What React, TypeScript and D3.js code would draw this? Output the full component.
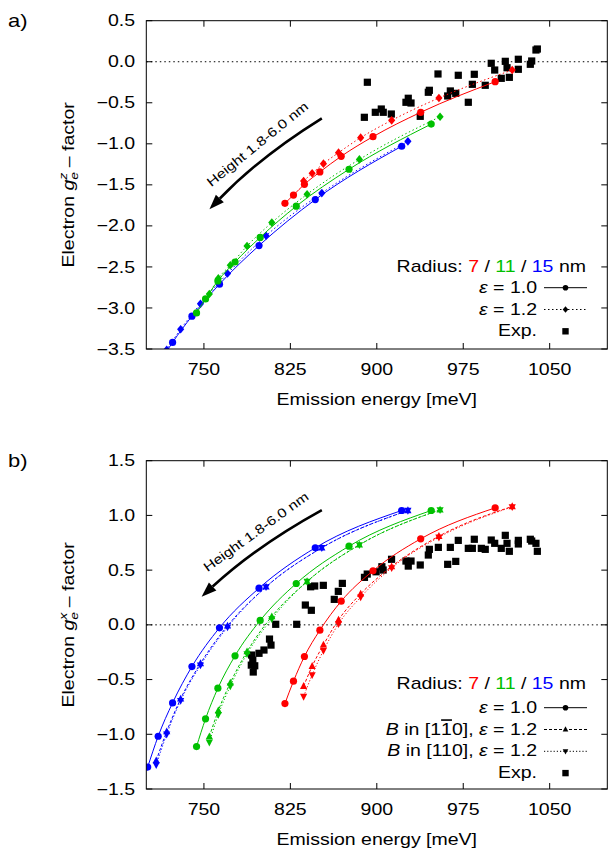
import React from "react";
import * as d3 from "d3";

// emission energies (meV) of the calculated dots, heights 1.8 -> 6.0 nm (high E -> low E)
const energyRed10 = [820.3, 827.7, 837.2, 850.6, 869.1, 896.7, 938.1, 1002.7];
const energyRed12 = [836.5, 843.9, 853.7, 866.8, 886.0, 912.9, 953.9, 1017.5];
const energyGreen10 = [743.6, 751.4, 762.1, 777.0, 798.8, 830.1, 875.9, 947.2];
const energyGreen12 = [754.7, 762.5, 772.9, 787.4, 808.9, 839.5, 884.9, 954.9];
const energyBlue10 = [701.2, 710.3, 722.8, 739.6, 763.5, 797.8, 846.6, 921.6];
const energyBlue12 = [708.6, 717.7, 729.8, 747.0, 770.5, 803.9, 852.3, 927.0];

// panel a: g_e^z
const gzRed10 = [-1.725, -1.624, -1.493, -1.343, -1.152, -0.913, -0.616, -0.243];
const gzRed12 = [-1.453, -1.359, -1.242, -1.108, -0.925, -0.714, -0.442, -0.101];
const gzGreen10 = [-3.06, -2.89, -2.67, -2.44, -2.14, -1.76, -1.31, -0.76];
const gzGreen12 = [-2.83, -2.64, -2.48, -2.245, -1.96, -1.615, -1.19, -0.67];
const gzBlue10 = [-3.94, -3.7, -3.42, -3.1, -2.71, -2.24, -1.68, -1.03];
const gzBlue12 = [-3.74, -3.51, -3.26, -2.95, -2.58, -2.12, -1.6, -0.97];

// panel b: g_e^x
const gxRed10 = [-0.719, -0.515, -0.289, -0.049, 0.216, 0.494, 0.786, 1.069];
const gxRedUp = [-0.561, -0.378, -0.183, 0.046, 0.283, 0.533, 0.81, 1.082];
const gxRedDown = [-0.655, -0.457, -0.235, 0.009, 0.253, 0.521, 0.8, 1.078];
const gxGreen10 = [-1.112, -0.859, -0.579, -0.283, 0.04, 0.378, 0.719, 1.045];
const gxGreenUp = [-1.021, -0.783, -0.53, -0.244, 0.076, 0.396, 0.731, 1.051];
const gxGreenDown = [-1.073, -0.82, -0.56, -0.265, 0.055, 0.396, 0.731, 1.051];
const gxBlue10 = [-1.3, -1.018, -0.713, -0.381, -0.027, 0.335, 0.704, 1.045];
const gxBlueUp = [-1.24, -0.975, -0.676, -0.353, -0.009, 0.347, 0.704, 1.045];
const gxBlueDown = [-1.28, -1.0, -0.692, -0.369, -0.021, 0.347, 0.704, 1.045];

// experiment
const expEnergyA = [889.2, 891.8, 898.7, 903.9, 905.6, 912.6, 925.3, 927.3, 929.7, 937.7, 944.7,
  945.6, 953.1, 961.5, 963.8, 968.5, 970.7, 979.4, 982.9, 984.6, 994.1, 999.3, 1002.3, 1008.0,
  1011.5, 1013.0, 1015.0, 1022.8, 1022.8, 1033.2, 1034.4, 1038.1, 1039.3];
const expGz = [-0.677, -0.25, -0.616, -0.576, -0.616, -0.637, -0.494, -0.445, -0.503, -0.665, -0.372,
  -0.348, -0.149, -0.417, -0.356, -0.385, -0.165, -0.494, -0.275, -0.153, -0.287, -0.019, -0.101, -0.202,
  0.005, -0.073, -0.19, 0.03, -0.092, -0.031, 0.009, 0.143, 0.155];
const expEnergyB = [791.4, 792.4, 791.1, 794.1, 792.8, 797.8, 802.1, 806.9, 808.2, 812.3, 830.5,
  838.0, 843.2, 842.6, 846.1, 853.6, 863.1, 866.6, 870.1, 889.3, 891.7, 899.4, 904.4, 905.5, 912.8,
  925.3, 927.3, 929.7, 937.7, 944.7, 945.6, 953.4, 961.5, 963.8, 968.5, 970.7, 979.4, 982.9, 984.6,
  990.7, 994.1, 999.3, 1002.3, 1008.0, 1011.5, 1013.0, 1015.0, 1022.8, 1022.8, 1033.2, 1034.4,
  1038.1, 1039.3];
const expGx = [-0.276, -0.322, -0.368, -0.374, -0.431, -0.26, -0.23, -0.13, -0.185, 0.005, 0.005,
  0.181, 0.133, 0.348, 0.355, 0.361, 0.233, 0.306, 0.379, 0.434, 0.464, 0.485, 0.531, 0.501, 0.599,
  0.583, 0.537, 0.583, 0.547, 0.638, 0.69, 0.708, 0.553, 0.708, 0.58, 0.772, 0.699, 0.699, 0.782,
  0.699, 0.69, 0.775, 0.745, 0.699, 0.818, 0.745, 0.672, 0.772, 0.739, 0.782, 0.766, 0.745, 0.672];

const xTicks = [750, 825, 900, 975, 1050];
const yTicksA = [0.5, 0, -0.5, -1, -1.5, -2, -2.5, -3, -3.5];
const yTicksB = [1.5, 1, 0.5, 0, -0.5, -1, -1.5];

const RED = "#ff0000";
const GREEN = "#00c000";
const BLUE = "#0000ff";
const FONT = "'Liberation Sans', Arial, Helvetica, sans-serif";
const SX = 1.22; // the figure's lettering is wider than Helvetica

const DOT = "1.5,2.5";
const DASH = "3,2";
const FINE = "1.2,2";

const x = d3.scaleLinear().domain([700, 1100]).range([146.3, 607.3]);

const Txt = ({ x, y, size = 16, anchor = "start", rot = 0, fill = "#000", children }: any) => (
  <text
    transform={`translate(${x},${y}) rotate(${rot}) scale(${SX},1)`}
    fontSize={size}
    textAnchor={anchor}
    fontFamily={FONT}
    fill={fill}
  >
    {children}
  </text>
);

const Marker = ({ shape, cx, cy, s, color }: any) => {
  if (shape === "circle") return <circle cx={cx} cy={cy} r={s} fill={color} />;
  if (shape === "square")
    return <rect x={cx - s} y={cy - s} width={2 * s} height={2 * s} fill={color} />;
  let pts: number[][] = [];
  if (shape === "diamond")
    pts = [[cx, cy - s * 1.2], [cx + s, cy], [cx, cy + s * 1.2], [cx - s, cy]];
  if (shape === "up")
    pts = [[cx, cy - s * 1.15], [cx + s, cy + s * 0.75], [cx - s, cy + s * 0.75]];
  if (shape === "down")
    pts = [[cx, cy + s * 1.15], [cx + s, cy - s * 0.75], [cx - s, cy - s * 0.75]];
  return <polygon points={pts.map((p) => p.join(",")).join(" ")} fill={color} />;
};

const Panel = ({ id, top, bottom, yDomain, yTicks, series, expE, expG, letter, comp, arrow, legend }: any) => {
  const y = d3.scaleLinear().domain(yDomain).range([bottom, top]);
  const [x0, x1] = x.range();
  const line = d3
    .line<[number, number]>()
    .x((d) => x(d[0]))
    .y((d) => y(d[1]))
    .curve(d3.curveMonotoneX);
  const tick = 6;

  // arrow (in data units)
  const [sx, sy] = [x(arrow.from[0]), y(arrow.from[1])];
  const [ex, ey] = [x(arrow.to[0]), y(arrow.to[1])];
  const mx = (sx + ex) / 2, my = (sy + ey) / 2;
  const len = Math.hypot(ex - sx, ey - sy);
  const nx = (ey - sy) / len, ny = -(ex - sx) / len;
  const cx = mx - nx * 9, cy = my - ny * 9;
  const tl = Math.hypot(ex - cx, ey - cy);
  const ux = (ex - cx) / tl, uy = (ey - cy) / tl;
  const head = 15, hw = 5.5;
  const bx = ex - ux * head, by = ey - uy * head;
  const textAngle = (Math.atan2(sy - ey, sx - ex) * 180) / Math.PI;

  const legendLineX = [544, 587];
  const legendMarkX = 565.5;

  return (
    <g>
      <defs>
        <clipPath id={`clip-${id}`}>
          <rect x={x0} y={top} width={x1 - x0} height={bottom - top} />
        </clipPath>
      </defs>

      <Txt x={8} y={top + 6.5} size={18}>{letter}</Txt>

      {/* zero line */}
      <line x1={x0} x2={x1} y1={y(0)} y2={y(0)} stroke="#000" strokeWidth={1} strokeDasharray="1.5,3" />

      <g clipPath={`url(#clip-${id})`}>
        {expE.map((e: number, i: number) => (
          <Marker key={"e" + i} shape="square" cx={x(e)} cy={y(expG[i])} s={3.6} color="#000" />
        ))}
        {series.map((s: any, k: number) => (
          <g key={k}>
            <path
              d={line(s.E.map((e: number, i: number) => [e, s.g[i]]) as [number, number][]) || ""}
              fill="none"
              stroke={s.color}
              strokeWidth={1}
              strokeDasharray={s.dash || undefined}
            />
            {s.E.map((e: number, i: number) => (
              <Marker key={i} shape={s.shape} cx={x(e)} cy={y(s.g[i])} s={3.6} color={s.color} />
            ))}
          </g>
        ))}
      </g>

      {/* frame and ticks */}
      <rect x={x0} y={top} width={x1 - x0} height={bottom - top} fill="none" stroke="#000" strokeWidth={1} />
      {xTicks.map((t) => (
        <g key={"x" + t}>
          <line x1={x(t)} x2={x(t)} y1={bottom} y2={bottom - tick} stroke="#000" />
          <line x1={x(t)} x2={x(t)} y1={top} y2={top + tick} stroke="#000" />
          <Txt x={x(t)} y={bottom + 26} anchor="middle">{t}</Txt>
        </g>
      ))}
      {yTicks.map((t: number) => (
        <g key={"y" + t}>
          <line x1={x0} x2={x0 + tick} y1={y(t)} y2={y(t)} stroke="#000" />
          <line x1={x1} x2={x1 - tick} y1={y(t)} y2={y(t)} stroke="#000" />
          <Txt x={135} y={y(t) + 5.6} anchor="end">{d3.format(".1f")(t)}</Txt>
        </g>
      ))}

      <Txt x={(x0 + x1) / 2} y={bottom + 56} anchor="middle">Emission energy [meV]</Txt>
      <Txt x={73.5} y={(top + bottom) / 2} anchor="middle" rot={-90}>
        <tspan>Electron </tspan>
        <tspan fontStyle="italic">g</tspan>
        <tspan fontStyle="italic" fontSize={11.5} dy={4.5}>e</tspan>
        <tspan fontStyle="italic" fontSize={11.5} dx={-6.4} dy={-11.5}>{comp}</tspan>
        <tspan dy={7}> – factor</tspan>
      </Txt>

      {/* height arrow */}
      <path d={`M${sx},${sy} Q${cx},${cy} ${bx},${by}`} fill="none" stroke="#000" strokeWidth={2.6} />
      <polygon
        points={`${ex},${ey} ${bx - uy * hw},${by + ux * hw} ${bx + uy * hw},${by - ux * hw}`}
        fill="#000"
      />
      <Txt x={x(arrow.text[0])} y={y(arrow.text[1])} size={13} rot={textAngle}>Height 1.8-6.0 nm</Txt>

      {/* legend */}
      <Txt x={586} y={legend.radiusY} anchor="end">
        <tspan>Radius: </tspan>
        <tspan fill={RED}>7</tspan>
        <tspan> / </tspan>
        <tspan fill={GREEN}>11</tspan>
        <tspan> / </tspan>
        <tspan fill={BLUE}>15</tspan>
        <tspan> nm</tspan>
      </Txt>
      {legend.rows.map((r: any, i: number) => {
        const ly = legend.firstY + i * 21.8;
        return (
          <g key={"l" + i}>
            <Txt x={537} y={ly + 5} anchor="end">{r.label}</Txt>
            {r.shape !== "square" && (
              <line
                x1={legendLineX[0]}
                x2={legendLineX[1]}
                y1={ly}
                y2={ly}
                stroke="#000"
                strokeWidth={1}
                strokeDasharray={r.dash || undefined}
              />
            )}
            <Marker shape={r.shape} cx={legendMarkX} cy={ly} s={r.shape === "square" ? 3.2 : 2.8} color="#000" />
          </g>
        );
      })}
    </g>
  );
};

const eps = (v: string) => (
  <>
    <tspan fontStyle="italic">ε</tspan>
    <tspan> = {v}</tspan>
  </>
);

const seriesA = [
  { E: energyBlue10, g: gzBlue10, color: BLUE, dash: null, shape: "circle" },
  { E: energyBlue12, g: gzBlue12, color: BLUE, dash: DOT, shape: "diamond" },
  { E: energyGreen10, g: gzGreen10, color: GREEN, dash: null, shape: "circle" },
  { E: energyGreen12, g: gzGreen12, color: GREEN, dash: DOT, shape: "diamond" },
  { E: energyRed10, g: gzRed10, color: RED, dash: null, shape: "circle" },
  { E: energyRed12, g: gzRed12, color: RED, dash: DOT, shape: "diamond" },
];

const seriesB = [
  { E: energyBlue10, g: gxBlue10, color: BLUE, dash: null, shape: "circle" },
  { E: energyBlue12, g: gxBlueUp, color: BLUE, dash: DASH, shape: "up" },
  { E: energyBlue12, g: gxBlueDown, color: BLUE, dash: FINE, shape: "down" },
  { E: energyGreen10, g: gxGreen10, color: GREEN, dash: null, shape: "circle" },
  { E: energyGreen12, g: gxGreenUp, color: GREEN, dash: DASH, shape: "up" },
  { E: energyGreen12, g: gxGreenDown, color: GREEN, dash: FINE, shape: "down" },
  { E: energyRed10, g: gxRed10, color: RED, dash: null, shape: "circle" },
  { E: energyRed12, g: gxRedUp, color: RED, dash: DASH, shape: "up" },
  { E: energyRed12, g: gxRedDown, color: RED, dash: FINE, shape: "down" },
];

export default function App() {
  return (
    <svg
      width={608}
      height={850}
      style={{ position: "absolute", left: 0, top: 0, background: "#fff" }}
    >
      <rect width={608} height={850} fill="#fff" />
      <Panel
        id="a"
        top={20.7}
        bottom={349}
        yDomain={[-3.5, 0.5]}
        yTicks={yTicksA}
        series={seriesA}
        expE={expEnergyA}
        expG={expGz}
        letter="a)"
        comp="z"
        arrow={{ from: [852.3, -0.689], to: [754.8, -1.798], text: [756.4, -1.53] }}
        legend={{
          radiusY: 272,
          firstY: 287.7,
          rows: [
            { label: eps("1.0"), shape: "circle", dash: null },
            { label: eps("1.2"), shape: "diamond", dash: DOT },
            { label: "Exp.", shape: "square" },
          ],
        }}
      />
      <Panel
        id="b"
        top={460.7}
        bottom={789}
        yDomain={[-1.5, 1.5]}
        yTicks={yTicksB}
        series={seriesB}
        expE={expEnergyB}
        expG={expGx}
        letter="b)"
        comp="x"
        arrow={{ from: [852.3, 1.049], to: [748.0, 0.257], text: [753.0, 0.48] }}
        legend={{
          radiusY: 689.3,
          firstY: 707.7,
          rows: [
            { label: eps("1.0"), shape: "circle", dash: null },
            {
              label: (
                <>
                  <tspan fontStyle="italic">B</tspan>
                  <tspan> in [1</tspan>
                  <tspan style={{ textDecoration: "overline" }}>1</tspan>
                  <tspan>0], </tspan>
                  {eps("1.2")}
                </>
              ),
              shape: "up",
              dash: DASH,
            },
            {
              label: (
                <>
                  <tspan fontStyle="italic">B</tspan>
                  <tspan> in [110], </tspan>
                  {eps("1.2")}
                </>
              ),
              shape: "down",
              dash: FINE,
            },
            { label: "Exp.", shape: "square" },
          ],
        }}
      />
    </svg>
  );
}
